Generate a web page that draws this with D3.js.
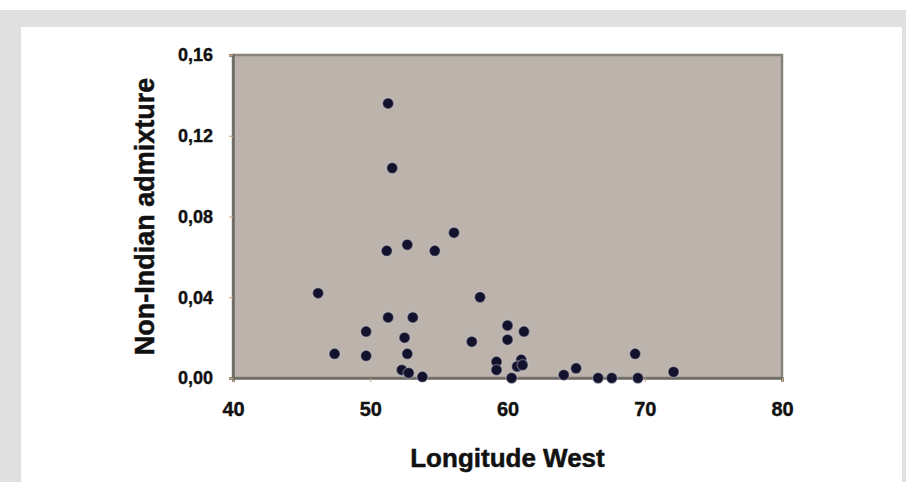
<!DOCTYPE html>
<html>
<head>
<meta charset="utf-8">
<script src="https://cdn.jsdelivr.net/npm/d3@7"></script>
<style>
  body { margin: 0; background: #fff; }
  svg { display: block; }
  .tick text { font-family: "Liberation Sans", Arial, sans-serif; font-weight: bold; fill: #111; stroke: #111; stroke-width: 0.4px; }
</style>
</head>
<body>
<div id="chart"></div>
<script>
// values
const longitude = [51.3, 51.6, 56.1, 51.2, 52.7, 54.7, 46.2, 58.0, 51.3, 53.1,
  49.7, 52.5, 47.4, 49.7, 52.7, 52.3, 52.8, 53.8, 57.4, 60.0,
  61.2, 60.0, 59.2, 59.2, 61.0, 60.7, 61.1, 60.3, 64.1, 65.0,
  66.6, 67.6, 69.3, 69.5, 72.1];
const admixture = [0.136, 0.104, 0.072, 0.063, 0.066, 0.063, 0.042, 0.040, 0.030, 0.030,
  0.023, 0.020, 0.012, 0.011, 0.012, 0.004, 0.0025, 0.0006, 0.018, 0.026,
  0.023, 0.019, 0.008, 0.004, 0.009, 0.0057, 0.0064, 0.0, 0.0015, 0.0048,
  0.0, 0.0, 0.012, 0.0, 0.003];
const xTicks = [40, 50, 60, 70, 80];
const yTicks = [0, 0.04, 0.08, 0.12, 0.16];

const points = longitude.map((d, i) => ({ lon: d, adm: admixture[i] }));

const W = 906, H = 482;
const plot = { left: 233, top: 55, right: 782, bottom: 378 };

const svg = d3.select('#chart').append('svg')
  .attr('width', W)
  .attr('height', H);

// page frame: grey band with white panel
svg.append('rect').attr('x', 0).attr('y', 10).attr('width', W).attr('height', H - 10)
  .attr('fill', '#e0e0e0');
svg.append('rect').attr('x', 21).attr('y', 27).attr('width', 881).attr('height', H - 27)
  .attr('fill', '#fff');

const x = d3.scaleLinear().domain([40, 80]).range([plot.left, plot.right]);
const y = d3.scaleLinear().domain([0, 0.16]).range([plot.bottom, plot.top]);

// plot area
svg.append('rect')
  .attr('x', plot.left).attr('y', plot.top)
  .attr('width', plot.right - plot.left).attr('height', plot.bottom - plot.top)
  .attr('fill', '#bcb4ac')
  .attr('stroke', '#87827c')
  .attr('stroke-width', 2.5);

// axes
const xAxis = svg.append('g')
  .attr('transform', `translate(0, ${plot.bottom})`)
  .call(d3.axisBottom(x).tickValues(xTicks).tickFormat(d3.format('d')).tickSize(4).tickPadding(20));
const yAxis = svg.append('g')
  .attr('transform', `translate(${plot.left}, 0)`)
  .call(d3.axisLeft(y).tickValues(yTicks).tickFormat(d => d3.format('.2f')(d).replace('.', ',')).tickSize(4).tickPadding(16));

[xAxis, yAxis].forEach(a => {
  a.select('.domain').attr('stroke', '#6f6b66').attr('stroke-width', 2.5);
  a.selectAll('.tick line').attr('stroke', '#c9a27a');
});
xAxis.selectAll('.tick text').style('font-size', '20px');
yAxis.selectAll('.tick text').style('font-size', '18px');

// points
svg.append('g').selectAll('circle')
  .data(points)
  .enter().append('circle')
  .attr('cx', d => x(d.lon))
  .attr('cy', d => y(d.adm))
  .attr('r', 5.5)
  .attr('fill', '#12122c')
  .attr('stroke', '#d8d4e0')
  .attr('stroke-opacity', 0.35)
  .attr('stroke-width', 1.5);

// axis titles
svg.append('text')
  .attr('x', (plot.left + plot.right) / 2)
  .attr('y', 467)
  .attr('text-anchor', 'middle')
  .style('font-family', '"Liberation Sans", Arial, sans-serif')
  .style('font-weight', 'bold')
  .style('font-size', '26px')
  .style('stroke', '#111')
  .style('stroke-width', '0.5px')
  .attr('fill', '#111')
  .text('Longitude West');

svg.append('text')
  .attr('transform', `translate(154, ${(plot.top + plot.bottom) / 2}) rotate(-90)`)
  .attr('text-anchor', 'middle')
  .style('font-family', '"Liberation Sans", Arial, sans-serif')
  .style('font-weight', 'bold')
  .style('font-size', '27px')
  .style('stroke', '#111')
  .style('stroke-width', '0.5px')
  .attr('fill', '#111')
  .text('Non-Indian admixture');
</script>
</body>
</html>
